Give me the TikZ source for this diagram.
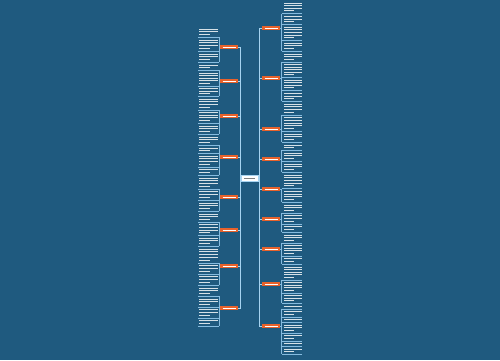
\documentclass[tikz,border=0pt]{standalone}
\usepackage{tikz}
\definecolor{bgblue}{HTML}{1F5A7F}
\definecolor{linkblue}{HTML}{A6D3F0}
\definecolor{subblue}{HTML}{86BCE0}
\definecolor{branchorange}{HTML}{E8622B}
\tikzset{
  txt/.style={fill=white, fill opacity=0.82},
  main/.style={draw=linkblue, line width=0.8pt},
  sub/.style={draw=subblue, line width=0.4pt},
  branch/.style={fill=branchorange, minimum width=18pt, minimum height=4pt, inner sep=0pt, outer sep=0pt},
  centre/.style={fill=white, draw=linkblue, line width=0.4pt, minimum width=17pt, minimum height=6pt, inner sep=0pt, outer sep=0pt}
}
% #1 text left x, #2 text width, #3 ya, #4 yb, #5 list of line counts, #6 connector x, #7 far end of underline
\newcommand\tgroup[7]{%
  \gdef\mytot{0}\gdef\mynb{0}%
  \foreach \n in {#5}{\pgfmathsetmacro\mytmp{\mytot+\n}\xdef\mytot{\mytmp}\pgfmathsetmacro\mytmp{\mynb+1}\xdef\mynb{\mytmp}}%
  \pgfmathsetmacro\mysp{(#4-#3-3*\mynb)/\mytot}\xdef\mysp{\mysp}%
  \xdef\ycur{#3}%
  \foreach \n [count=\j] in {#5}{%
    \foreach \k in {1,...,\n}{%
      \pgfmathsetmacro\bw{ifthenelse(\k==\n && \n>1, 0.55*#2, #2-1)}%
      \fill[txt] ({#1+0.5}, {\ycur+(\k-1)*\mysp+0.6}) rectangle ++(\bw,1);
    }%
    \pgfmathsetmacro\yu{\ycur+\n*\mysp+1.2}%
    \draw[sub] (#7,\yu) -- (#6,\yu);
    \ifnum\j=1 \xdef\yfirst{\yu}\fi
    \xdef\ylast{\yu}%
    \pgfmathsetmacro\mytmp{\ycur+\n*\mysp+3}\xdef\ycur{\mytmp}%
  }%
  \draw[sub] (#6,\yfirst) -- (#6,\ylast);
}
\begin{document}
\begin{tikzpicture}[x=1pt,y=-1pt]
\fill[bgblue] (0,0) rectangle (500,360);
\useasboundingbox (0,0) rectangle (500,360);

% centre
\node[centre] (C) at (249.5,178) {\textcolor{gray}{\rule{11pt}{0.9pt}}};

% left branches
\foreach \i/\y in {1/47,2/81,3/116,4/157,5/197,6/230,7/266,8/308}{
  \node[branch] (L\i) at (229,\y) {\textcolor{white}{\rule{13pt}{0.7pt}}};
  \draw[main] (C.west) -- ++(-1,0) |- (L\i.east);
  \draw[sub] (L\i.west) -- ++(-1,0);
}
% right branches
\foreach \i/\y in {1/28,2/78,3/129,4/159,5/189,6/219,7/249,8/284,9/326}{
  \node[branch] (R\i) at (271,\y) {\textcolor{white}{\rule{13pt}{0.7pt}}};
  \draw[main] (C.east) -- ++(1,0) |- (R\i.west);
  \draw[sub] (R\i.east) -- ++(1.5,0);
}

% left leaf groups
\tgroup{198}{20}{28}{64}{3,4,3}{219}{198}
\tgroup{198}{20}{64}{98}{2,5,3}{219}{198}
\tgroup{198}{20}{98}{136}{4,4,3}{219}{198}
\tgroup{198}{20}{136}{177}{3,2,4,2}{219}{198}
\tgroup{198}{20}{177}{213}{4,3,3}{219}{198}
\tgroup{198}{20}{213}{248}{3,4,3}{219}{198}
\tgroup{198}{20}{248}{287}{5,3,3}{219}{198}
\tgroup{198}{20}{287}{328}{3,3,3,2}{219}{198}

% right leaf groups
\tgroup{283}{19}{2}{53}{4,3,5,3}{281.5}{302}
\tgroup{283}{19}{53}{103}{3,5,4,3}{281.5}{302}
\tgroup{283}{19}{103}{144}{4,5,3}{281.5}{302}
\tgroup{283}{19}{144}{174}{2,3,3}{281.5}{302}
\tgroup{283}{19}{174}{204}{5,4}{281.5}{302}
\tgroup{283}{19}{204}{234}{3,3,2}{281.5}{302}
\tgroup{283}{19}{234}{266}{3,4,2}{281.5}{302}
\tgroup{283}{19}{266}{305}{5,4,3}{281.5}{302}
\tgroup{283}{19}{305}{356}{1,2,1,3,2,1,2}{281.5}{302}
\end{tikzpicture}
\end{document}
